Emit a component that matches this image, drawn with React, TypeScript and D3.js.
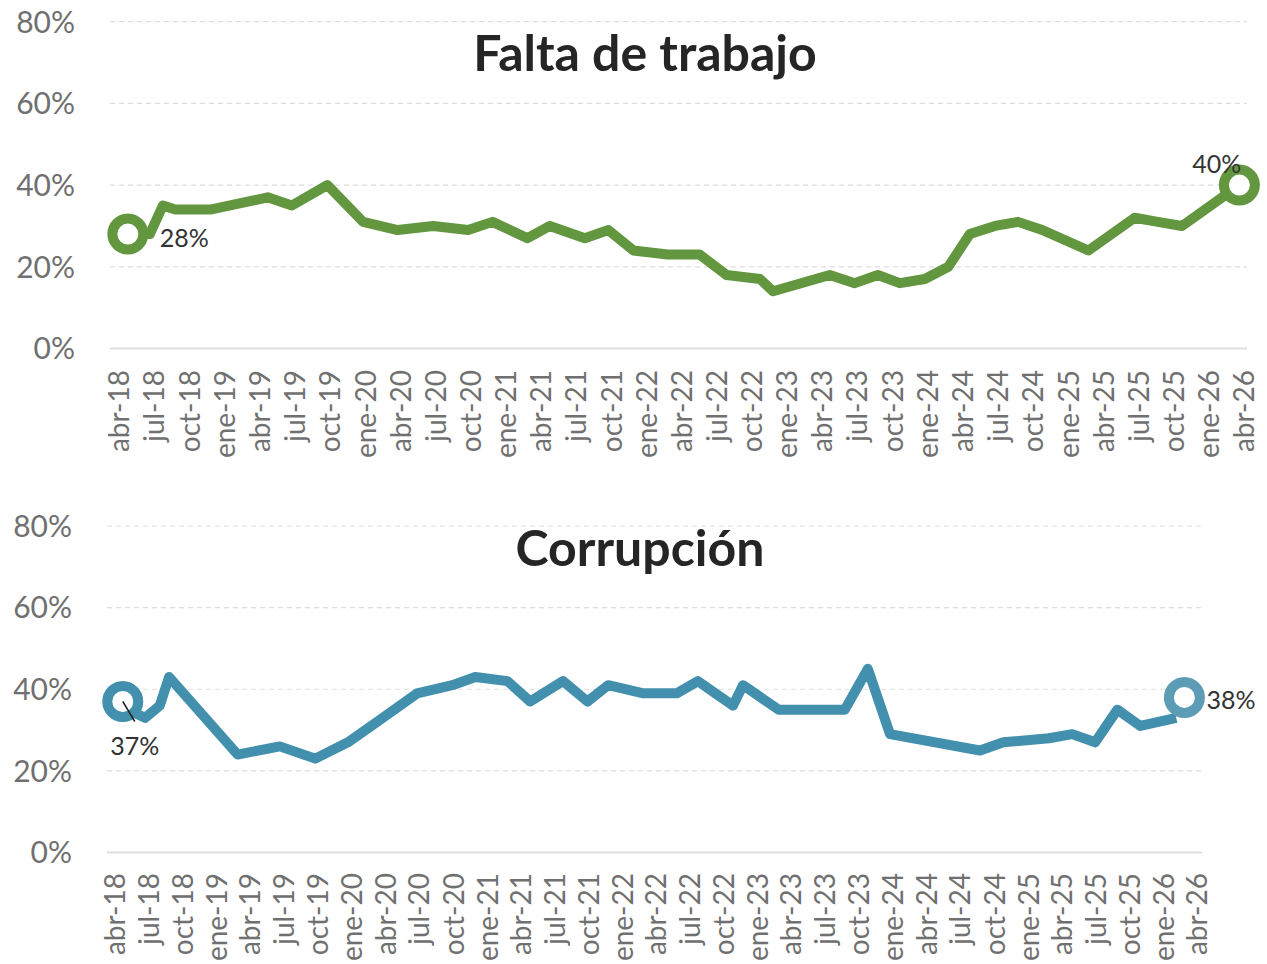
import React from 'react';
import * as d3 from 'd3';

// Falta de trabajo (% de menciones)
const trabajoDates = [
  '2018-04-24', '2018-06-20', '2018-07-24', '2018-08-25', '2018-11-24', '2019-04-22',
  '2019-06-24', '2019-09-24', '2019-12-26', '2020-03-25', '2020-06-25', '2020-09-24',
  '2020-11-26', '2021-02-25', '2021-04-24', '2021-07-24', '2021-09-23', '2021-11-27',
  '2022-02-24', '2022-05-18', '2022-07-27', '2022-10-22', '2022-11-25', '2023-04-21',
  '2023-06-25', '2023-08-24', '2023-10-20', '2023-12-24', '2024-02-23', '2024-04-19',
  '2024-06-23', '2024-08-22', '2024-10-24', '2025-02-21', '2025-06-21', '2025-08-20',
  '2025-10-22', '2026-03-20',
];
const trabajoValues = [
  28, 28, 35, 34, 34, 37,
  35, 40, 31, 29, 30, 29,
  31, 27, 30, 27, 29, 24,
  23, 23, 18, 17, 14, 18,
  16, 18, 16, 17, 20, 28,
  30, 31, 29, 24, 32, 31,
  30, 40,
];

// Corrupción (% de menciones)
const corrupcionDates = [
  '2018-04-22', '2018-05-29', '2018-06-21', '2018-07-31', '2018-08-25', '2019-02-26',
  '2019-06-20', '2019-09-24', '2019-12-21', '2020-03-24', '2020-06-25', '2020-09-28',
  '2020-11-29', '2021-02-24', '2021-04-26', '2021-07-24', '2021-09-28', '2021-11-23',
  '2022-02-26', '2022-05-27', '2022-07-23', '2022-10-26', '2022-11-22', '2023-02-26',
  '2023-08-24', '2023-10-25', '2023-12-24', '2024-08-23', '2024-10-25', '2025-02-25',
  '2025-04-29', '2025-06-30', '2025-08-29', '2025-10-30', '2026-02-04',
];
const corrupcionValues = [
  37, 34, 33, 36, 43, 24,
  26, 23, 27, 33, 39, 41,
  43, 42, 37, 42, 37, 41,
  39, 39, 42, 36, 41, 35,
  35, 45, 29, 25, 27, 28,
  29, 27, 35, 31, 33,
];
const corrupcionLatestDate = '2026-02-26';
const corrupcionLatestValue = 38;

const yTicks = [0, 20, 40, 60, 80];
const monthAbbr = ['ene', 'feb', 'mar', 'abr', 'may', 'jun', 'jul', 'ago', 'sep', 'oct', 'nov', 'dic'];
const axisStart = '2018-04-01';
const axisEnd = '2026-04-01';

const parse = d3.timeParse('%Y-%m-%d');
const fmtTick = (d: Date) => `${monthAbbr[d.getMonth()]}-${String(d.getFullYear()).slice(2)}`;

const GREEN = '#629740';
const TEAL = '#4290ad';
const TEAL_LIGHT = '#5c9db5';
const GRID = '#dedede';
const AXIS_TEXT = '#707070';
const FONT = 'Lato, "Open Sans", sans-serif';

type Pt = { date: Date; value: number };

type PanelProps = {
  title: string;
  titleX: number;
  titleY: number;
  xRange: [number, number];
  axisExtent: [number, number];
  yRange: [number, number];
  yLabelRight: number;
  tickLabelTop: number;
  points: Pt[];
  color: string;
  children?: (x: d3.ScaleTime<number, number>, y: d3.ScaleLinear<number, number>) => React.ReactNode;
};

function Panel({ title, titleX, titleY, xRange, axisExtent, yRange, yLabelRight, tickLabelTop, points, color, children }: PanelProps) {
  const x = d3.scaleTime().domain([parse(axisStart)!, parse(axisEnd)!]).range(xRange);
  const y = d3.scaleLinear().domain([0, 80]).range(yRange);
  const ticks = x.ticks(d3.timeMonth.every(3)!);
  const line = d3.line<Pt>().x(d => x(d.date)).y(d => y(d.value));

  return (
    <g>
      {yTicks.map(t => (
        <g key={t}>
          {t > 0 && (
            <line x1={axisExtent[0]} x2={axisExtent[1]} y1={y(t)} y2={y(t)}
              stroke={GRID} strokeWidth={1.2} strokeDasharray="5,4" />
          )}
          <text x={yLabelRight} y={y(t)} dy="0.36em" textAnchor="end"
            fontSize={30} fill={AXIS_TEXT} fontFamily={FONT}>{t}%</text>
        </g>
      ))}
      <line x1={axisExtent[0]} x2={axisExtent[1]} y1={y(0)} y2={y(0)} stroke={GRID} strokeWidth={2} />
      {ticks.map(t => (
        <text key={+t} transform={`translate(${x(t)},${tickLabelTop}) rotate(-90)`}
          textAnchor="end" dy="0.36em" fontSize={28} fill={AXIS_TEXT} fontFamily={FONT}>
          {fmtTick(t)}
        </text>
      ))}
      <text x={titleX} y={titleY} textAnchor="middle" fontSize={50} fontWeight={700}
        fill="#252525" fontFamily={FONT}>{title}</text>
      <path d={line(points) ?? ''} fill="none" stroke={color} strokeWidth={10}
        strokeLinejoin="round" strokeLinecap="butt" />
      {children && children(x, y)}
    </g>
  );
}

export default function App() {
  const trabajo: Pt[] = trabajoDates.map((d, i) => ({ date: parse(d)!, value: trabajoValues[i] }));
  const corrupcion: Pt[] = corrupcionDates.map((d, i) => ({ date: parse(d)!, value: corrupcionValues[i] }));
  const tFirst = trabajo[0];
  const tLast = trabajo[trabajo.length - 1];
  const cFirst = corrupcion[0];
  const cLatest: Pt = { date: parse(corrupcionLatestDate)!, value: corrupcionLatestValue };

  return (
    <svg width={1267} height={964} style={{ position: 'absolute', left: 0, top: 0, background: '#fff' }}>
      <Panel title="Falta de trabajo" titleX={645} titleY={71} xRange={[119, 1244]} axisExtent={[110, 1247]}
        yRange={[348.5, 21.7]} yLabelRight={75} tickLabelTop={370} points={trabajo} color={GREEN}>
        {(x, y) => (
          <g>
            <circle cx={x(tFirst.date)} cy={y(tFirst.value)} r={15.5} fill="#fff" stroke={GREEN} strokeWidth={10} />
            <circle cx={x(tLast.date)} cy={y(tLast.value)} r={15.5} fill="#fff" stroke={GREEN} strokeWidth={10} />
            <text x={x(tFirst.date) + 32} y={y(tFirst.value) + 13} fontSize={25} fill="#333" fontFamily={FONT}>
              {tFirst.value}%
            </text>
            <text x={x(tLast.date) + 2} y={y(tLast.value) - 12} textAnchor="end" fontSize={25} fill="#333" fontFamily={FONT}>
              {tLast.value}%
            </text>
          </g>
        )}
      </Panel>
      <Panel title="Corrupción" titleX={640} titleY={566} xRange={[115, 1197]} axisExtent={[107, 1202]}
        yRange={[852.5, 526]} yLabelRight={72} tickLabelTop={873} points={corrupcion} color={TEAL}>
        {(x, y) => (
          <g>
            <circle cx={x(cFirst.date)} cy={y(cFirst.value)} r={15.5} fill="#fff" stroke={TEAL} strokeWidth={10} />
            <circle cx={x(cLatest.date)} cy={y(cLatest.value)} r={15.5} fill="#fff" stroke={TEAL_LIGHT} strokeWidth={10} />
            <line x1={x(cFirst.date)} y1={y(cFirst.value)} x2={x(cFirst.date) + 12} y2={y(cFirst.value) + 20}
              stroke="#222" strokeWidth={1.5} />
            <text x={x(cFirst.date) + 12} y={y(cFirst.value) + 54} textAnchor="middle" fontSize={25} fill="#333" fontFamily={FONT}>
              {cFirst.value}%
            </text>
            <text x={x(cLatest.date) + 22} y={y(cLatest.value) + 12} fontSize={25} fill="#333" fontFamily={FONT}>
              {cLatest.value}%
            </text>
          </g>
        )}
      </Panel>
    </svg>
  );
}
